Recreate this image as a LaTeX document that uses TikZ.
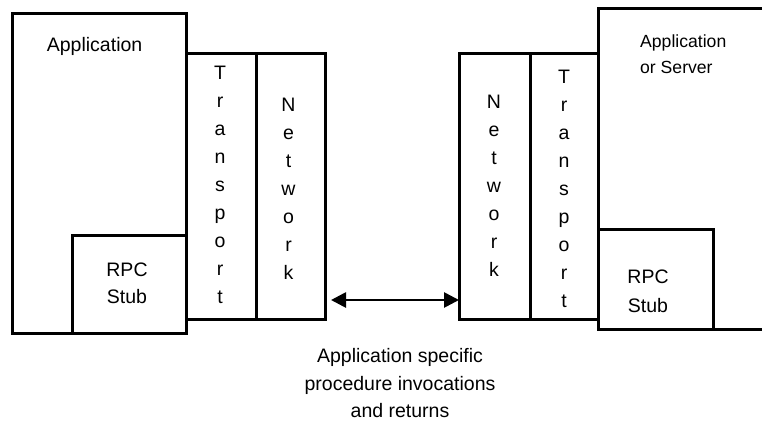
\documentclass[tikz,border=0pt]{standalone}
\usepackage{fontspec}
\setmainfont{Liberation Sans}
\usetikzlibrary{arrows.meta}
\begin{document}
\begin{tikzpicture}[x=1pt,y=-1pt,
  box/.style={draw,line width=3pt,inner sep=0pt,outer sep=0pt,anchor=north west},
  txt/.style={font=\fontsize{19.5}{28}\selectfont,inner sep=0pt,anchor=base},
  txtl/.style={font=\fontsize{19.5}{28}\selectfont,inner sep=0pt,anchor=base west},
  txts/.style={font=\fontsize{17.6}{26}\selectfont,inner sep=0pt,anchor=base west},
  link/.style={line width=2.7pt,{Triangle[length=15pt,width=15pt]}-{Triangle[length=15pt,width=15pt]}}]
\useasboundingbox (0,0) rectangle (762,423);

% client side
\node[box,minimum width=174pt,minimum height=320pt] (lapp) at (12,13) {};
\node[box,minimum width=114pt,minimum height=98pt] (lstub) at (72,235) {};
\node[box,minimum width=70pt,minimum height=266pt] (ltrans) at (186,53) {};
\node[box,minimum width=69pt,minimum height=266pt] (lnet) at (256,53) {};

% server side (box runs off the right edge)
\node[box,minimum width=200pt,minimum height=321pt] (rapp) at (598,8) {};
\node[box,minimum width=115pt,minimum height=100pt] (rstub) at (598,229) {};
\node[box,minimum width=71pt,minimum height=266pt] (rnet) at (459,53) {};
\node[box,minimum width=68pt,minimum height=266pt] (rtrans) at (530,53) {};

% labels
\node[txtl] (lapptxt) at (46.7,51) {Application};
\node[txt] (lrpc) at (127,276) {RPC};
\node[txt] (lstb) at (127,303) {Stub};
\node[txts] (rapptxt) at (640,47) {Application};
\node[txts] (rsrv) at (640,73) {or Server};
\node[txt] (rrpc) at (648,283) {RPC};
\node[txt] (rstb) at (648,312) {Stub};

\foreach \c [count=\k from 0] in {T,r,a,n,s,p,o,r,t} {
  \node[txt] (lt\k) at (220,{79+28*\k}) {\c};
  \node[txt] (rt\k) at (564,{83+28*\k}) {\c};
}
\foreach \c [count=\k from 0] in {N,e,t,w,o,r,k} {
  \node[txt] (ln\k) at (288.5,{111+28*\k}) {\c};
  \node[txt] (rn\k) at (494,{108+28*\k}) {\c};
}

% link between the two network layers
\coordinate (aL) at ([xshift=6pt]lnet.east |- 0,300);
\coordinate (aR) at (rnet.west |- 0,300);
\draw[link] (aL) -- (aR);

\node[txt] (cap1) at (400,362) {Application specific};
\node[txt] (cap2) at (400,390) {procedure invocations};
\node[txt] (cap3) at (400,417) {and returns};
\end{tikzpicture}
\end{document}
